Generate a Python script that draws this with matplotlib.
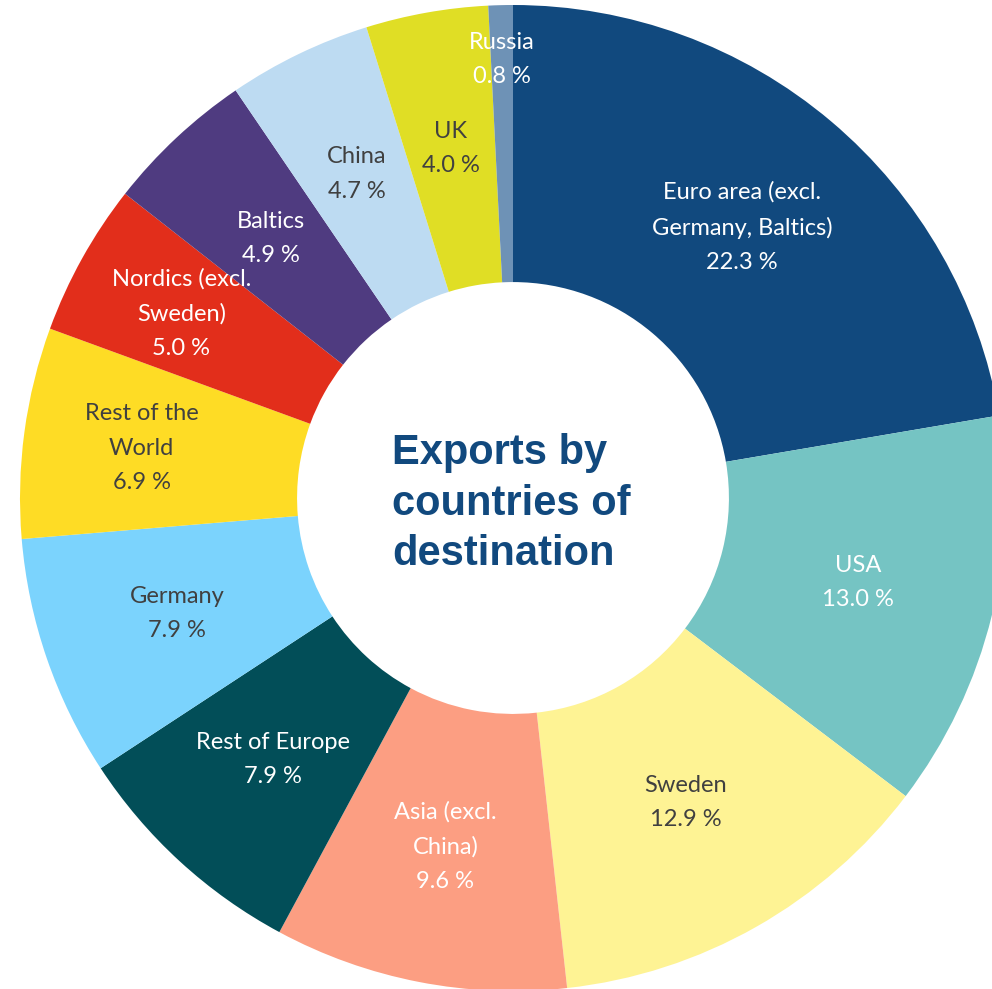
import matplotlib.pyplot as plt
import numpy as np

# export shares by destination, clockwise from the top
labels = ["Euro area (excl.\nGermany, Baltics)", "USA", "Sweden", "Asia (excl.\nChina)",
          "Rest of Europe", "Germany", "Rest of the\nWorld", "Nordics (excl.\nSweden)",
          "Baltics", "China", "UK", "Russia"]
shares = [22.3, 13.0, 12.9, 9.6, 7.9, 7.9, 6.9, 5.0, 4.9, 4.7, 4.0, 0.8]
colors = ["#11497E", "#75C4C3", "#FEF394", "#FC9E82", "#024E58", "#7BD3FD",
          "#FEDC25", "#E22E1B", "#4F3B80", "#BDDBF2", "#E0DE25", "#6E92B6"]
text_colors = ["white", "white", "#404040", "white", "white", "#404040",
               "#404040", "white", "white", "#404040", "#404040", "white"]
label_r = [0.72, 0.72, 0.71, 0.72, 0.72, 0.72, 0.76, 0.77, 0.72, 0.73, 0.72, 0.89]

W, H = 992, 989
cx, cy, R = 513, 498, 493

fig = plt.figure(figsize=(W / 100, H / 100), dpi=100)
ax = fig.add_axes([0, 0, 1, 1])

wedges, _ = ax.pie(shares, colors=colors, startangle=90, counterclock=False,
                   radius=1.0, wedgeprops=dict(width=0.562, linewidth=0))

for w, lab, pct, tc, r in zip(wedges, labels, shares, text_colors, label_r):
    ang = np.deg2rad((w.theta1 + w.theta2) / 2)
    ax.text(r * np.cos(ang), r * np.sin(ang), f"{lab}\n{pct:.1f} %",
            ha="center", va="center", color=tc, fontsize=17, family="Lato",
            linespacing=1.78)

ax.text(-0.245, -0.012, "Exports by\ncountries of\ndestination", ha="left", va="center",
        fontsize=30, fontweight="bold", family="Liberation Sans", color="#11497E",
        linespacing=1.34)

ax.set_xlim(-cx / R, (W - cx) / R)
ax.set_ylim((cy - H) / R, cy / R)
ax.set_aspect("auto")
ax.axis("off")

fig.savefig("out.png", dpi=100)
